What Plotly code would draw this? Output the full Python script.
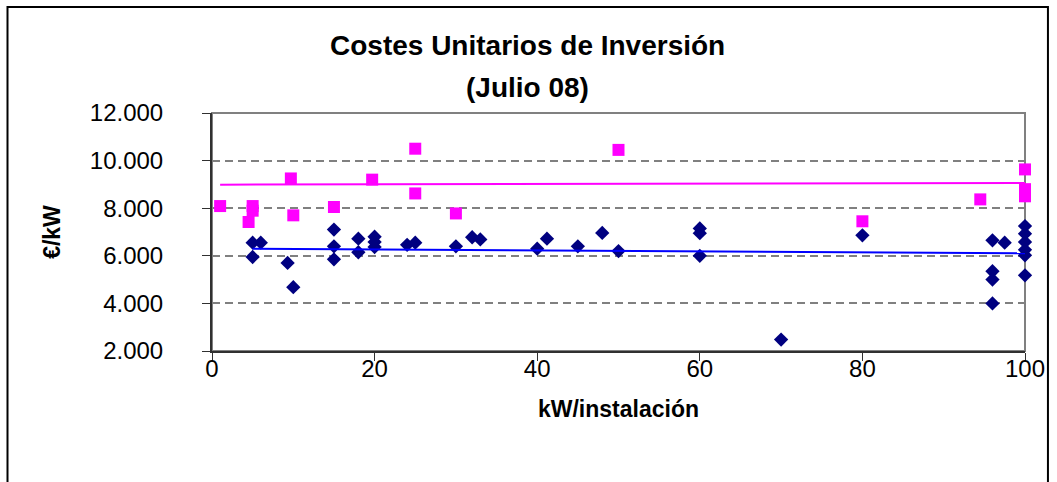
import plotly.graph_objects as go

# ---- data (kW per installation, EUR per kW) ----
kw_magenta = [1, 5, 5, 4.5, 9.7, 10, 15, 19.7, 25, 25, 30, 50, 80, 94.5, 100, 100, 100]
eur_magenta = [8090, 8090, 7895, 7420, 9250, 7700, 8050, 9200, 8620, 10500, 7780, 10450, 7450, 8370, 9630, 8800, 8500]

kw_blue = [5, 6, 5, 9.3, 10, 15, 15, 15, 18, 18, 20, 20, 20, 24, 25, 30, 32, 33,
           40, 41.2, 45, 48, 50, 60, 60, 60, 70, 80, 96, 97.5, 96, 96, 96,
           100, 100, 100, 100, 100, 100]
eur_blue = [6550, 6550, 5950, 5700, 4680, 7100, 6400, 5850, 6720, 6150, 6800, 6580, 6370, 6460, 6550, 6400, 6780, 6690,
            6300, 6720, 6400, 6960, 6200, 7150, 6950, 6000, 2480, 6860, 6650, 6550, 5350, 5000, 4000,
            7250, 6930, 6580, 6250, 6020, 5180]

# linear trend lines
trend_magenta_kw = [1, 100]
trend_magenta_eur = [8990, 9060]
trend_blue_kw = [5, 100]
trend_blue_eur = [6300, 6110]

title_lines = ["Costes Unitarios de Inversión", "(Julio 08)"]
x_title = "kW/instalación"
y_title = "€/kW"

FONT = "Liberation Sans, Arial, sans-serif"

# plot-area geometry in pixels (used for placing frame / title)
L, R, T, B = 212, 1027, 113, 351
W, H = R - L, B - T


def px_x(px):
    return (px - L) / W


def px_y(py):
    return (B - py) / H


fig = go.Figure()
fig.add_trace(go.Scatter(x=kw_magenta, y=eur_magenta, mode="markers",
                         marker=dict(symbol="square", size=12, color="#FF00FF", line=dict(width=0)),
                         cliponaxis=False, showlegend=False))
fig.add_trace(go.Scatter(x=kw_blue, y=eur_blue, mode="markers",
                         marker=dict(symbol="diamond", size=11, color="#000080", line=dict(width=0)),
                         cliponaxis=False, showlegend=False))
fig.add_trace(go.Scatter(x=trend_magenta_kw, y=trend_magenta_eur, mode="lines",
                         line=dict(color="#FF00FF", width=2), showlegend=False))
fig.add_trace(go.Scatter(x=trend_blue_kw, y=trend_blue_eur, mode="lines",
                         line=dict(color="#0000FF", width=2), showlegend=False))

annotations = [
    dict(text="<b>" + title_lines[0] + "</b>", xref="paper", yref="paper",
         x=px_x(528), y=px_y(46), xanchor="center", yanchor="middle", showarrow=False,
         font=dict(family=FONT, size=28, color="black")),
    dict(text="<b>" + title_lines[1] + "</b>", xref="paper", yref="paper",
         x=px_x(528), y=px_y(88), xanchor="center", yanchor="middle", showarrow=False,
         font=dict(family=FONT, size=28, color="black")),
]

fig.update_layout(
    width=1057, height=482,
    margin=dict(l=L, r=1057 - R, t=T, b=482 - B),
    paper_bgcolor="white", plot_bgcolor="white",
    separators=",.",
    font=dict(family=FONT, color="black", size=23),
    showlegend=False,
    annotations=annotations,
    shapes=[
        # plot area border
        dict(type="rect", xref="paper", yref="paper", x0=0, x1=1, y0=0, y1=1,
             line=dict(color="#808080", width=2), layer="below"),
        # chart outer frame
        dict(type="rect", xref="paper", yref="paper",
             x0=px_x(7), x1=px_x(1050), y0=px_y(500), y1=px_y(7),
             line=dict(color="black", width=2)),
    ],
)

fig.update_xaxes(range=[0, 100], dtick=20, tick0=0,
                 showline=True, linecolor="#303030", linewidth=2,
                 ticks="outside", ticklen=8, tickcolor="#303030", tickwidth=1,
                 showgrid=False, zeroline=False, ticklabelstandoff=-13,
                 tickfont=dict(size=24, family=FONT, color="black"),
                 title=dict(text="<b>" + x_title + "</b>", font=dict(size=23, family=FONT, color="black"), standoff=20))
fig.update_yaxes(range=[2000, 12000], dtick=2000, tick0=2000, tickformat=",d",
                 showline=True, linecolor="#303030", linewidth=2,
                 ticks="outside", ticklen=8, tickcolor="#303030", tickwidth=1,
                 showgrid=True, gridcolor="#808080", gridwidth=2, griddash="8px,5px",
                 zeroline=False, ticklabelstandoff=34,
                 tickfont=dict(size=24, family=FONT, color="black"),
                 title=dict(text="<b>" + y_title + "</b>", font=dict(size=23, family=FONT, color="black"), standoff=23))

fig.write_html(
    "out.html",
    config={"displayModeBar": False},
    post_script="document.documentElement.style.margin='0';document.body.style.margin='0';"
                "document.documentElement.style.overflow='hidden';document.body.style.overflow='hidden';",
)
